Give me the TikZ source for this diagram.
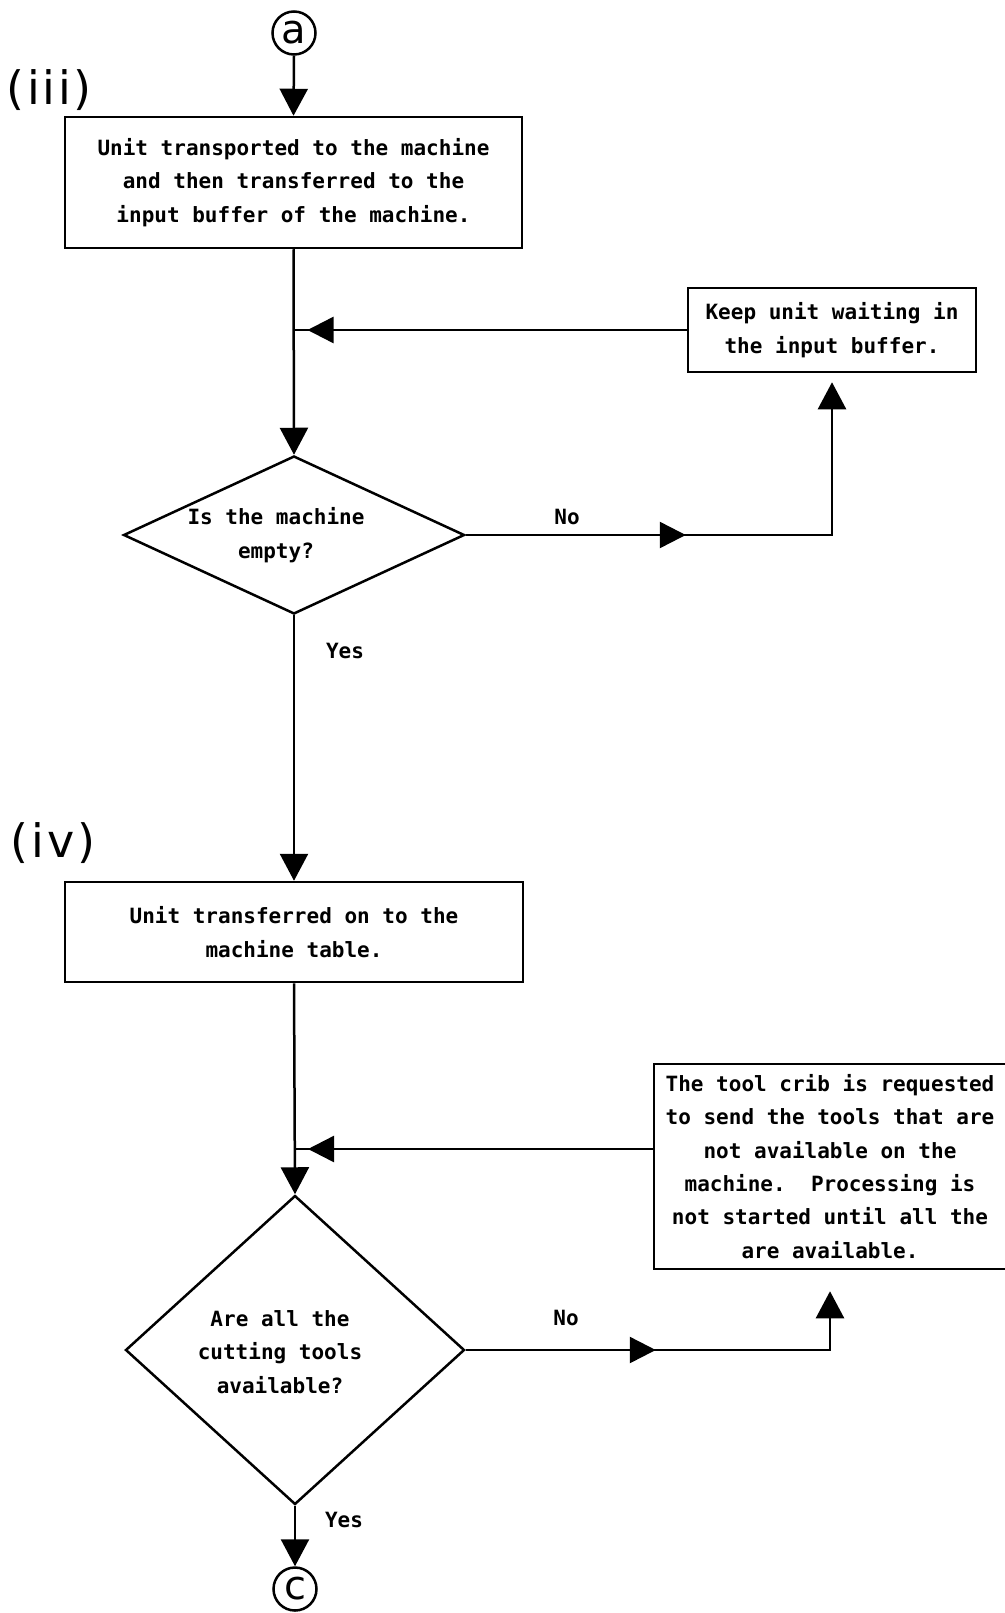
\documentclass[tikz,border=0pt]{standalone}
\usepackage{fontspec}
\setmainfont{DejaVu Sans}
\newfontfamily\boxfont{DejaVu Sans Mono}
\newfontfamily\labfont[LetterSpace=6]{DejaVu Sans}
\usetikzlibrary{shapes.geometric,arrows.meta,decorations.markings}

\begin{document}
\begin{tikzpicture}[x=1pt,y=-1pt,
  line width=2.5pt,
  >={Triangle[width=28pt,length=27pt]},
  procbox/.style={draw, rectangle, inner sep=0pt, align=center,
    font=\boxfont\bfseries\fontsize{21}{33.3}\selectfont},
  decision/.style={draw, diamond, inner sep=0pt},
  dtext/.style={align=center, inner sep=0pt,
    font=\boxfont\bfseries\fontsize{21}{33.5}\selectfont},
  lbl/.style={inner sep=0pt, font=\boxfont\bfseries\fontsize{21}{25}\selectfont},
  stage/.style={inner sep=0pt, font=\labfont\fontsize{46}{46}\selectfont},
  conn/.style={draw, circle, minimum size=43pt, inner sep=0pt,
    font=\fontsize{40}{40}\selectfont},
  midarrow/.style={postaction={decorate}, decoration={markings,
    mark=at position #1 with {\arrow{Triangle[width=26pt,length=26pt]}}}}
]
\useasboundingbox (0,0) rectangle (1004,1613);

% connectors and stage labels
\node[conn] (ca) at (294,33) {\raisebox{2pt}{a}};
\node[stage] (s3) at (49,90) {(iii)};
\node[stage] (s4) at (53,843) {(iv)};
\node[conn] (cc) at (295,1589) {\raisebox{2pt}{c}};

% process boxes
\node[procbox, minimum width=457pt, minimum height=131pt] (b1) at (293.5,182.5)
  {Unit transported to the machine\\and then transferred to the\\input buffer of the machine.};
\node[procbox, minimum width=288pt, minimum height=84pt] (b2) at (832,330)
  {Keep unit waiting in\\the input buffer.};
\node[procbox, minimum width=458pt, minimum height=100pt] (b3) at (294,932)
  {Unit transferred on to the\\machine table.};
\node[procbox, minimum width=352pt, minimum height=205pt] (b4) at (830,1166.5)
  {The tool crib is requested\\to send the tools that are\\not available on the\\machine.\ \ Processing is\\not started until all the\\are available.};

% decisions
\node[decision, minimum width=341pt, minimum height=158pt] (d1) at (294,535) {};
\node[dtext] (t1) at (276,535) {Is the machine\\empty?};
\node[decision, minimum width=339pt, minimum height=309pt] (d2) at (295,1350) {};
\node[dtext] (t2) at (280,1352) {Are all the\\cutting tools\\available?};

% branch labels
\node[lbl] (no1) at (567,517) {No};
\node[lbl] (yes1) at (345,651) {Yes};
\node[lbl] (no2) at (566,1318) {No};
\node[lbl] (yes2) at (344,1520) {Yes};

% junctions on the main line
\coordinate (j1) at (b1.south |- b2.west);
\coordinate (j2) at (294,1149);

% flow
\draw[->] (ca.south) -- (b1.north);
\draw[->] (b1.south) -- (d1.north);
\draw[midarrow=-14pt] (b2.west) -- (j1);
\draw[->, shorten >=9pt, midarrow=220pt] (d1.east) -| (b2.south);
\draw[->] (d1.south) -- (b3.north);
\draw[->] (b3.south) -- (d2.north);
\draw[midarrow=-14pt] (j2 -| b4.west) -- (j2);
\draw[->, shorten >=21pt, midarrow=190pt] (d2.east) -| (b4.south);
\draw[->] (d2.south) -- (cc.north);
\end{tikzpicture}
\end{document}
